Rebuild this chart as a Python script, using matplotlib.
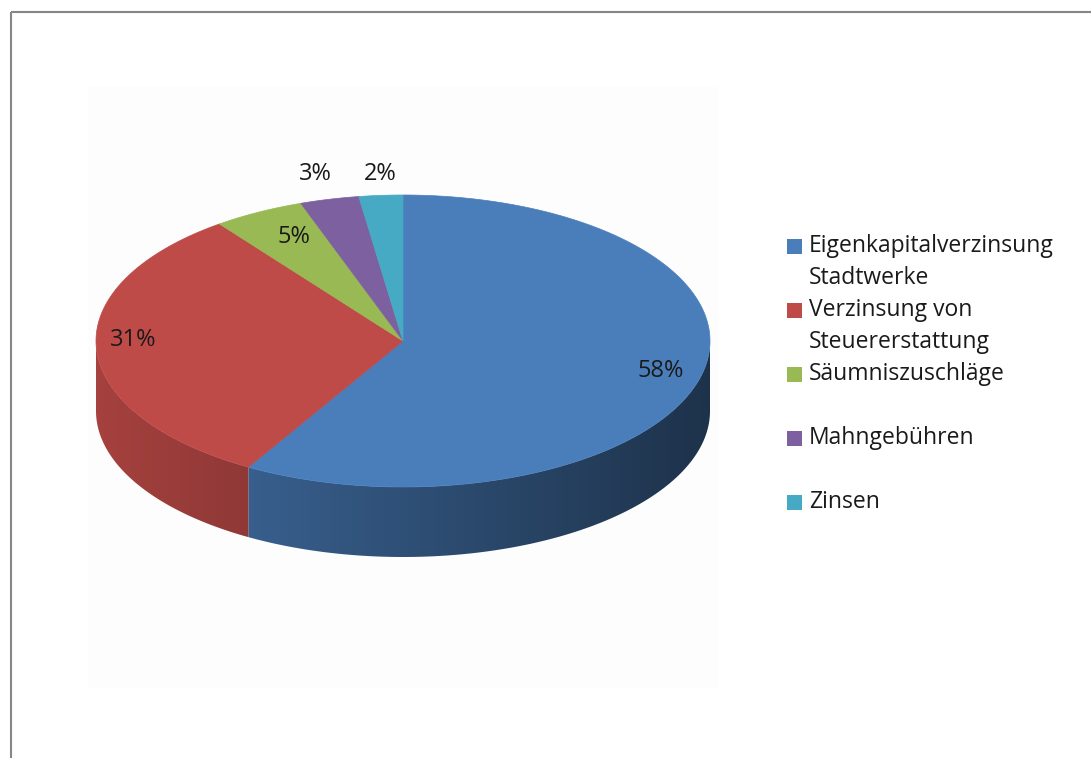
import numpy as np
import matplotlib.pyplot as plt
from matplotlib.patches import Polygon, Rectangle
import matplotlib.colors as mcolors

plt.rcParams['font.family'] = ['Open Sans', 'DejaVu Sans']

# data
categories = ['Eigenkapitalverzinsung\nStadtwerke', 'Verzinsung von\nSteuererstattung',
              'Säumniszuschläge', 'Mahngebühren', 'Zinsen']
shares = [58.4, 31.4, 4.8, 3.1, 2.3]
pct_labels = ['58%', '31%', '5%', '3%', '2%']
colors = ['#4a7ebb', '#be4b48', '#98b954', '#7d60a0', '#46aac4']

# label placement (radius factor, x nudge, y nudge)
label_r = [0.87, 0.88, 0.81, 1.19, 1.16]
label_dx = [0, 0, 8, 0, 3]
label_dy = [-3, -8, 0, 2, 2]

W, H = 1091, 758
fig = plt.figure(figsize=(W / 100, H / 100), dpi=100)
ax = fig.add_axes([0, 0, 1, 1])

# chart frame and faint plot area
ax.plot([10.5, 10.5], [H + 5, 11.5], color='#868686', lw=1.5, solid_capstyle='butt')
ax.plot([10.5, W + 5], [11.5, 11.5], color='#868686', lw=1.5, solid_capstyle='butt')
ax.add_patch(Rectangle((88, 87), 630, 601, facecolor='#fdfdfd', edgecolor='none', zorder=0))

cx, cy, rx, ry, depth = 403, 341, 307, 146, 70


def ell(theta):
    # theta in degrees, clockwise from 12 o'clock
    t = np.radians(theta)
    return cx + rx * np.sin(t), cy - ry * np.cos(t)


def shade(x):
    return 0.87 - 0.47 * (x - (cx - rx)) / (2 * rx)


total = sum(shares)
bounds = np.concatenate([[0], np.cumsum(shares) / total * 360])

# sides (front half only visible), horizontal gradient clipped to each side
gx = np.linspace(cx - rx, cx + rx, 600)
for i, c in enumerate(colors):
    a0, a1 = max(bounds[i], 90), min(bounds[i + 1], 270)
    if a1 <= a0:
        continue
    base = np.array(mcolors.to_rgb(c))
    th = np.linspace(a0, a1, 300)
    xs, ys = ell(th)
    pts = list(zip(xs, ys)) + list(zip(xs[::-1], ys[::-1] + depth))
    side = Polygon(pts, closed=True, facecolor='none', edgecolor='none', zorder=2)
    ax.add_patch(side)
    grad = np.clip(base[None, None, :] * shade(gx)[None, :, None], 0, 1)
    im = ax.imshow(grad, extent=(cx - rx, cx + rx, cy + ry + depth + 2, cy - 2),
                   aspect='auto', interpolation='bilinear', zorder=2)
    im.set_clip_path(side)

# top faces
for i, c in enumerate(colors):
    th = np.linspace(bounds[i], bounds[i + 1], 200)
    xs, ys = ell(th)
    pts = [(cx, cy)] + list(zip(xs, ys))
    ax.add_patch(Polygon(pts, closed=True, facecolor=c, edgecolor=c, lw=0.5, zorder=3))

# percentage labels
for i, lab in enumerate(pct_labels):
    mid = (bounds[i] + bounds[i + 1]) / 2
    t = np.radians(mid)
    lx = cx + rx * label_r[i] * np.sin(t) + label_dx[i]
    ly = cy - ry * label_r[i] * np.cos(t) + label_dy[i]
    ax.text(lx, ly, lab, ha='center', va='center', fontsize=17, color='#1a1a1a', zorder=5)

# legend
leg_x, leg_y, line_h = 787, 246, 32
row = 0
for c, name in zip(colors, categories):
    y = leg_y + row * line_h
    ax.add_patch(Rectangle((leg_x, y - 7.5), 15, 15, facecolor=c, edgecolor='none', zorder=4))
    for k, part in enumerate(name.split('\n')):
        ax.text(leg_x + 22, y + k * line_h, part, ha='left', va='center',
                fontsize=16.5, color='#1a1a1a', zorder=5)
    row += 2

ax.set_xlim(0, W)
ax.set_ylim(H, 0)
ax.axis('off')

fig.savefig('out.png', dpi=100)
